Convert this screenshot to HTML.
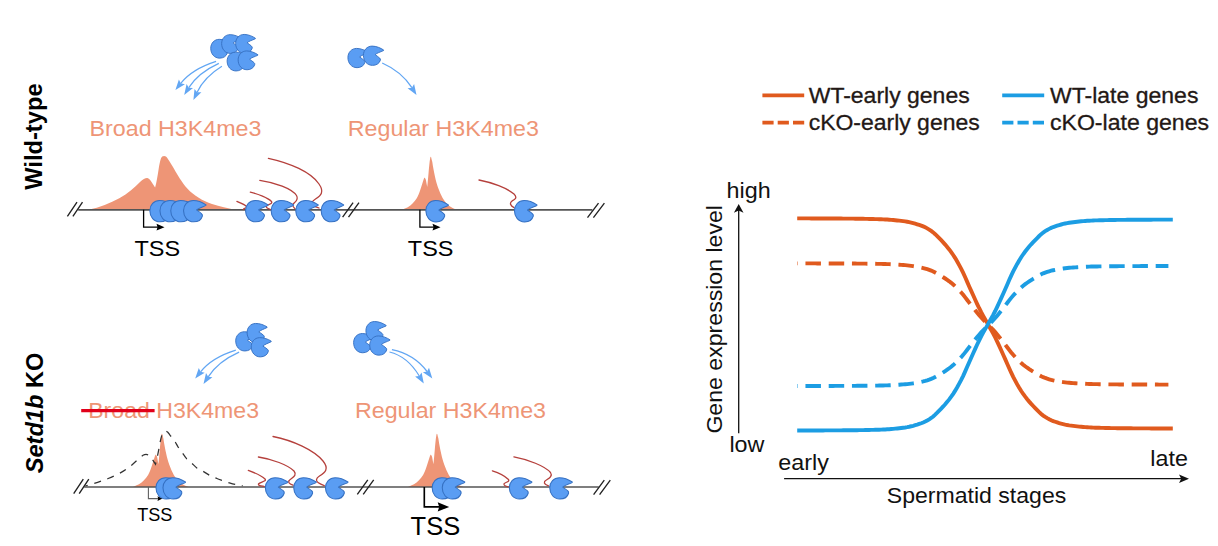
<!DOCTYPE html>
<html><head><meta charset="utf-8"><title>Figure</title>
<style>
html,body{margin:0;padding:0;background:#fff;}
body{width:1218px;height:546px;overflow:hidden;font-family:"Liberation Sans",sans-serif;}
svg{display:block;}
svg text{font-family:"Liberation Sans",sans-serif;}
</style></head><body>
<svg width="1218" height="546" viewBox="0 0 1218 546">
<defs>
<path id="pac" d="M12.5,-6.6 C9,-9 4,-11.2 -1,-11.2 C-7,-11.2 -11.2,-6.5 -11.2,-0.5 C-11.2,6 -7,11.3 -0.5,11.3 C4,11.3 7.5,9 8.6,5.2 C8.9,4.2 8.6,3.6 7.8,2.8 C6,1 4,0 2.5,-1.2 C4.5,-3.2 8.5,-4.2 12.3,-6 Z" fill="#5A9DF3" stroke="#3570C2" stroke-width="1.1" stroke-linejoin="round"/>
</defs>
<rect width="1218" height="546" fill="#fff"/>

<text transform="translate(42.2,189.8) rotate(-90)" font-size="23.7" font-weight="bold" fill="#000">Wild-type</text>
<text transform="translate(42.5,473.3) rotate(-90)" font-size="23.6" font-weight="bold" fill="#000"><tspan font-style="italic">Setd1b</tspan> KO</text>
<path d="M88.3,209.8 C100,207.5 110,203 119.3,198.2 C128,193.5 135,187 140,182 C143,179 145.5,177.8 147.4,178 C149.5,178.3 151,181 152.5,183.5 L155.1,187.6 C156.5,183 157.5,176 158.5,170 C159.5,164 160.5,158 162.2,156.6 C163.2,155.8 165,155.8 165.9,156.6 C168,158.5 171,164 174,168.7 C177,174 182,182.5 187.3,188.6 C194,196 203,201 212,204 C220,206.5 228,208 234.6,209.8 Z" fill="#EE9576"/>
<path d="M401.8,209.8 C406,208.4 410,206.3 412.5,203.5 C414.3,201.7 415.8,199.8 416.9,198 C419.5,193.5 421.5,186 423.6,179.4 C424,178 424.3,177.6 424.6,177.7 C425.2,178 425.6,179 425.9,180 L427.2,187.1 C427.8,182 428.2,177 428.5,173.6 C429,168 429.5,162 430.2,158 C430.5,156.3 431,156.3 431.3,158 C431.7,160 432,160.5 432.3,162.1 C433,167 434,172 434.9,176.2 C435.8,180.5 437,184.5 438.1,187.7 C439.5,191.5 441,195 442.6,198 C444.5,201.3 446.8,203.9 449,205.7 C451.5,207.6 454.5,209 457.8,209.8 Z" fill="#EE9576"/>
<path d="M78.2,209.85 H592.4" stroke="#555" stroke-width="1.65" fill="none"/>
<path d="M67.4,216.45 l9.6,-14.4 M72.9,216.45 l9.6,-14.4" stroke="#222" stroke-width="1.35" fill="none"/>
<path d="M342.6,217.1 l10.5,-14.4 M348.5,217.1 l10.5,-14.4" stroke="#222" stroke-width="1.35" fill="none"/>
<path d="M587.5,217.54999999999998 l11,-14.4 M593.4,217.54999999999998 l11,-14.4" stroke="#222" stroke-width="1.35" fill="none"/>
<path d="M143.6,209.85 V227.2 H158.04" stroke="#000" stroke-width="1.3" fill="none"/><path d="M164.5,227.2 l-8,-3.4 l1.04,3.4 l-1.04,3.4 Z" fill="#000"/>
<path d="M419.9,209.85 V227.2 H434.04" stroke="#000" stroke-width="1.3" fill="none"/><path d="M440.5,227.2 l-8,-3.4 l1.04,3.4 l-1.04,3.4 Z" fill="#000"/>
<text transform="translate(134.5,255.5) scale(1.03,1)" font-size="22.8" fill="#000">TSS</text>
<text transform="translate(407.8,255.5) scale(1.03,1)" font-size="22.8" fill="#000">TSS</text>
<g fill="none" stroke="#B5403C" stroke-width="1.3" stroke-linecap="round">
<path d="M236.9,201.4 C241,203 245,204.5 246.5,206.5 C247.5,208.5 243.5,207.5 243.3,209.5"/>
<path d="M250.3,192.2 C258,194 268,198 271.5,201.5 C273,204 268,204 266.5,206 C265.5,208 269,208.5 270.5,209.5"/>
<path d="M259.8,180.3 C275,182.5 292,188.5 296.5,195.5 C299.5,200.5 294,202.5 292.8,204.5 C292,206.5 294,207.5 295,208.5"/>
<path d="M268.4,158.3 C290,163 311,172 319,184 C324.5,192 321,195.5 315.5,199 C312.5,201 311.5,202.5 311.5,203.5 C312,206 316,207 319,208"/>
<path d="M479,180 C492,182.5 507,188 514,194 C518,198 514.5,199.5 512,201 C509.5,203 510,205.5 514,207.6"/>
</g>
<use href="#pac" transform="translate(160.5,211.1) rotate(0) scale(0.950)"/>
<use href="#pac" transform="translate(170.6,211.1) rotate(0) scale(0.950)"/>
<use href="#pac" transform="translate(181.4,211.1) rotate(0) scale(0.950)"/>
<use href="#pac" transform="translate(194.2,211.1) rotate(0) scale(0.950)"/>
<use href="#pac" transform="translate(256.2,211.1) rotate(0) scale(0.950)"/>
<use href="#pac" transform="translate(281.8,211.1) rotate(0) scale(0.950)"/>
<use href="#pac" transform="translate(306.4,211.1) rotate(0) scale(0.950)"/>
<use href="#pac" transform="translate(331.8,211.1) rotate(0) scale(0.950)"/>
<use href="#pac" transform="translate(436.5,211.2) rotate(0) scale(0.950)"/>
<use href="#pac" transform="translate(525.1,211.2) rotate(0) scale(0.950)"/>
<text x="89.6" y="136.3" font-size="22.8" fill="#EE9576" textLength="171.8" lengthAdjust="spacingAndGlyphs">Broad H3K4me3</text>
<text x="347.8" y="136.4" font-size="22.8" fill="#EE9576" textLength="191" lengthAdjust="spacingAndGlyphs">Regular H3K4me3</text>
<use href="#pac" transform="translate(220.1,48.7) rotate(0) scale(0.836)"/>
<use href="#pac" transform="translate(231,44) rotate(0) scale(0.836)"/>
<use href="#pac" transform="translate(245,43.8) rotate(0) scale(0.836)"/>
<use href="#pac" transform="translate(236.5,61.5) rotate(0) scale(0.836)"/>
<use href="#pac" transform="translate(247.5,60.3) rotate(0) scale(0.836)"/>
<path d="M216.1,61.3 Q192,69 180.7,83.3" fill="none" stroke="#62A6F3" stroke-width="1.25"/><path d="M175.4,90.1 L178.9,79.5 L180.7,83.3 L184.9,84.2 Z" fill="#62A6F3"/>
<path d="M218.8,63.4 Q198,73 188.8,87.7" fill="none" stroke="#62A6F3" stroke-width="1.25"/><path d="M184.2,95 L186.6,84.1 L188.8,87.7 L193.0,88.1 Z" fill="#62A6F3"/>
<path d="M221.9,66.3 Q204.5,77 197.1,92.2" fill="none" stroke="#62A6F3" stroke-width="1.25"/><path d="M193.4,100 L194.5,88.9 L197.1,92.2 L201.4,92.2 Z" fill="#62A6F3"/>
<use href="#pac" transform="translate(357.5,58) rotate(0) scale(0.855)"/>
<use href="#pac" transform="translate(373,55.7) rotate(0) scale(0.855)"/>
<path d="M382.2,63 Q401.5,71.5 411.9,87.7" fill="none" stroke="#62A6F3" stroke-width="1.25"/><path d="M416.5,95 L407.6,88.2 L411.9,87.7 L414.1,84.1 Z" fill="#62A6F3"/>
<path d="M401.8,209.8 C406,208.4 410,206.3 412.5,203.5 C414.3,201.7 415.8,199.8 416.9,198 C419.5,193.5 421.5,186 423.6,179.4 C424,178 424.3,177.6 424.6,177.7 C425.2,178 425.6,179 425.9,180 L427.2,187.1 C427.8,182 428.2,177 428.5,173.6 C429,168 429.5,162 430.2,158 C430.5,156.3 431,156.3 431.3,158 C431.7,160 432,160.5 432.3,162.1 C433,167 434,172 434.9,176.2 C435.8,180.5 437,184.5 438.1,187.7 C439.5,191.5 441,195 442.6,198 C444.5,201.3 446.8,203.9 449,205.7 C451.5,207.6 454.5,209 457.8,209.8 Z" fill="#EE9576" transform="translate(-268.8,277.1)"/>
<path d="M401.8,209.8 C406,208.4 410,206.3 412.5,203.5 C414.3,201.7 415.8,199.8 416.9,198 C419.5,193.5 421.5,186 423.6,179.4 C424,178 424.3,177.6 424.6,177.7 C425.2,178 425.6,179 425.9,180 L427.2,187.1 C427.8,182 428.2,177 428.5,173.6 C429,168 429.5,162 430.2,158 C430.5,156.3 431,156.3 431.3,158 C431.7,160 432,160.5 432.3,162.1 C433,167 434,172 434.9,176.2 C435.8,180.5 437,184.5 438.1,187.7 C439.5,191.5 441,195 442.6,198 C444.5,201.3 446.8,203.9 449,205.7 C451.5,207.6 454.5,209 457.8,209.8 Z" fill="#EE9576" transform="translate(6.2,277.1)"/>
<path d="M85.3,486 C93,484 101,481.3 108.2,478.5 C113,476.6 117.5,474.5 120.8,472.6 C125,470.2 128.8,467.5 131.9,464.9 C136,461.4 139.8,457.3 143,455.3 C144.8,454.3 146.5,454.2 148,454.8 C150,455.8 151.5,458 153,460.3 L155.5,464.2 C157.2,458 158.5,451 159.6,445 C160.6,439.5 161.8,434 163.3,432.3 C164.5,431 166.5,431 167.8,432.3 C168.5,433 169,433.8 169.6,434.6 C171,436.5 172.5,438 174,439.8 C175.5,442 176.5,444.3 177.7,446.4 C179,448.5 180.6,450.3 182.1,452.3 C183.5,454.3 185,456.7 186.6,458.7 C188.2,460.4 190,461.7 191.7,463.1 C193.5,464.7 195.1,466.5 196.9,467.9 C199,469.4 201.3,470.4 203.6,471.6 C205.8,472.9 208,474.5 210.2,475.7 C212.4,476.8 214.7,477.6 216.9,478.5 C219.1,479.4 221.3,480.1 223.5,480.9 C225.7,481.7 228,482.5 230.2,483.1 C232.6,483.8 235.2,484.4 237.6,484.9 L242.7,485.9" fill="none" stroke="#333" stroke-width="1.25" stroke-dasharray="7 6.8" stroke-dashoffset="4.5"/>
<path d="M84.2,486.95 H598.8" stroke="#555" stroke-width="1.65" fill="none"/>
<path d="M73.7,493.59999999999997 l9.6,-14.4 M79.2,493.59999999999997 l9.6,-14.4" stroke="#222" stroke-width="1.35" fill="none"/>
<path d="M357.3,494.3 l10.5,-14.4 M363.2,494.3 l10.5,-14.4" stroke="#222" stroke-width="1.35" fill="none"/>
<path d="M593.6,494.55 l10.7,-14.4 M599.6,494.55 l10.7,-14.4" stroke="#222" stroke-width="1.35" fill="none"/>
<path d="M148.4,486.95 V498.6 H158.65" stroke="#606060" stroke-width="1.1" fill="none"/><path d="M162.5,498.6 l-5,-2.4 l0.65,2.4 l-0.65,2.4 Z" fill="#000"/>
<path d="M424.3,486.95 V506.9 H439.7" stroke="#000" stroke-width="1.65" fill="none"/><path d="M449.2,506.9 l-11.5,-4.7 l1.5,4.7 l-1.5,4.7 Z" fill="#000"/>
<text transform="translate(137.2,520.6) scale(1.03,1)" font-size="17.6" fill="#000">TSS</text>
<text transform="translate(410.6,534.8) scale(1.02,1)" font-size="25" fill="#000">TSS</text>
<g fill="none" stroke="#B5403C" stroke-width="1.3" stroke-linecap="round">
<path d="M248.3,470.4 C254,472.5 262,476 265,479 C267,481.5 260,482 258.5,484 C258,486 262,486 264,486.3"/>
<path d="M258.4,457 C272,459 288,465 294,471 C298,476 291,478 288.8,481 C288,483.5 291,484.5 293.2,485.3"/>
<path d="M273,436.5 C293,440.5 314,450 323,461 C329.5,469 325,472.5 319.5,476 C315.5,478.5 316,481 318,482.5 C320,484 322.5,485 324.3,485.6"/>
<path d="M492.4,470.8 C498,472.5 505,476 508.5,479.5 C510,482 505,482 504,483.8 C503.5,485.5 506,486.3 508.1,486.9"/>
<path d="M513.9,456.9 C528,459.5 545,466 550.5,472.5 C553.5,477 547,479 544.6,481.5 C543.5,484 546.5,485.2 548.5,485.8"/>
</g>
<use href="#pac" transform="translate(166.6,488.3) rotate(0) scale(0.950)"/>
<use href="#pac" transform="translate(173.6,488.3) rotate(0) scale(0.950)"/>
<use href="#pac" transform="translate(276,488.3) rotate(0) scale(0.950)"/>
<use href="#pac" transform="translate(304.4,488.3) rotate(0) scale(0.950)"/>
<use href="#pac" transform="translate(336.1,488.3) rotate(0) scale(0.950)"/>
<use href="#pac" transform="translate(442.8,488.3) rotate(0) scale(0.950)"/>
<use href="#pac" transform="translate(452.9,488.3) rotate(0) scale(0.950)"/>
<use href="#pac" transform="translate(520,488.3) rotate(0) scale(0.950)"/>
<use href="#pac" transform="translate(560.4,488.3) rotate(0) scale(0.950)"/>
<text x="88.2" y="417.9" font-size="22.8" fill="#EE9576" textLength="170.8" lengthAdjust="spacingAndGlyphs">Broad H3K4me3</text>
<path d="M81.2,410.6 H154.6" stroke="#E1001A" stroke-width="3.1"/>
<text x="355" y="418.3" font-size="22.8" fill="#EE9576" textLength="191" lengthAdjust="spacingAndGlyphs">Regular H3K4me3</text>
<use href="#pac" transform="translate(245.3,341.3) rotate(0) scale(0.855)"/>
<use href="#pac" transform="translate(256.7,333) rotate(-2) scale(0.855)"/>
<use href="#pac" transform="translate(260.8,347.2) rotate(-2) scale(0.855)"/>
<path d="M235.8,350.1 Q212,357.5 200.6,371.8" fill="none" stroke="#62A6F3" stroke-width="1.25"/><path d="M195.2,378.5 L198.8,367.9 L200.6,371.8 L204.7,372.7 Z" fill="#62A6F3"/>
<path d="M239.1,352.1 Q218,361.5 208.2,376.8" fill="none" stroke="#62A6F3" stroke-width="1.25"/><path d="M203.5,384 L206.0,373.1 L208.2,376.8 L212.4,377.2 Z" fill="#62A6F3"/>
<use href="#pac" transform="translate(363.2,343.1) rotate(0) scale(0.855)"/>
<use href="#pac" transform="translate(375.5,331.1) rotate(0) scale(0.855)"/>
<use href="#pac" transform="translate(379.3,345.5) rotate(0) scale(0.855)"/>
<path d="M389.5,352 Q407.4,356.3 419.3,376.0" fill="none" stroke="#62A6F3" stroke-width="1.25"/><path d="M423.8,383.4 L415.1,376.4 L419.3,376.0 L421.6,372.4 Z" fill="#62A6F3"/>
<path d="M391.9,349.6 Q413.9,354 427.1,371.5" fill="none" stroke="#62A6F3" stroke-width="1.25"/><path d="M432.3,378.4 L422.9,372.3 L427.1,371.5 L429.0,367.7 Z" fill="#62A6F3"/>
<path d="M762.4,95.4 H804.2" stroke="#E05A1E" stroke-width="3.7"/>
<path d="M762.4,122.6 H804.2" stroke="#E05A1E" stroke-width="3.7" stroke-dasharray="11.2 4.1"/>
<path d="M1002.2,95.4 H1044.2" stroke="#1C9DE3" stroke-width="3.7"/>
<path d="M1002.2,122.6 H1044.2" stroke="#1C9DE3" stroke-width="3.7" stroke-dasharray="11.2 4.1"/>
<text x="808.7" y="103.1" font-size="22" fill="#231815" stroke="#231815" stroke-width="0.3" textLength="161" lengthAdjust="spacingAndGlyphs">WT-early genes</text>
<text x="808.7" y="130.3" font-size="22" fill="#231815" stroke="#231815" stroke-width="0.3" textLength="171" lengthAdjust="spacingAndGlyphs">cKO-early genes</text>
<text x="1050" y="103.1" font-size="22" fill="#231815" stroke="#231815" stroke-width="0.3" textLength="148.4" lengthAdjust="spacingAndGlyphs">WT-late genes</text>
<text x="1050" y="130.3" font-size="22" fill="#231815" stroke="#231815" stroke-width="0.3" textLength="159" lengthAdjust="spacingAndGlyphs">cKO-late genes</text>
<path d="M738.7,433.2 V210" stroke="#111" stroke-width="1.3" fill="none"/>
<path d="M738.7,204 l-4.8,8.8 l4.8,-2.4 l4.8,2.4 Z" fill="#111"/>
<path d="M784.1,478.7 H1183" stroke="#111" stroke-width="1.3" fill="none"/>
<path d="M1189,478.7 l-10,-4.2 l2.2,4.2 l-2.2,4.2 Z" fill="#111"/>
<text transform="translate(726.6,197.5) scale(1.05,1)" font-size="22.2" fill="#111">high</text>
<text transform="translate(729.4,451.7) scale(1.05,1)" font-size="22.2" fill="#111">low</text>
<text transform="translate(778.3,469.6) scale(1.05,1)" font-size="22.2" fill="#111">early</text>
<text transform="translate(1150.3,465.5) scale(1.05,1)" font-size="22.2" fill="#111">late</text>
<text x="886.8" y="503.4" font-size="22.3" fill="#111" textLength="179.5" lengthAdjust="spacingAndGlyphs">Spermatid stages</text>
<text transform="translate(722,433.6) rotate(-90)" font-size="22.4" fill="#111" textLength="228.6" lengthAdjust="spacingAndGlyphs">Gene expression level</text>
<path d="M797.2,263.40 L799.2,263.40 L801.2,263.40 L803.2,263.41 L805.2,263.41 L807.2,263.41 L809.2,263.41 L811.2,263.42 L813.2,263.42 L815.2,263.42 L817.2,263.43 L819.2,263.43 L821.2,263.44 L823.2,263.44 L825.2,263.45 L827.2,263.45 L829.2,263.46 L831.2,263.46 L833.2,263.47 L835.2,263.48 L837.2,263.48 L839.2,263.49 L841.2,263.50 L843.2,263.50 L845.2,263.51 L847.2,263.52 L849.2,263.53 L851.2,263.54 L853.2,263.55 L855.2,263.56 L857.2,263.58 L859.2,263.59 L861.2,263.61 L863.2,263.63 L865.2,263.66 L867.2,263.68 L869.2,263.70 L871.2,263.73 L873.2,263.76 L875.2,263.79 L877.2,263.83 L879.2,263.86 L881.2,263.90 L883.2,263.95 L885.2,264.01 L887.2,264.08 L889.2,264.16 L891.2,264.25 L893.2,264.35 L895.2,264.46 L897.2,264.58 L899.2,264.71 L901.2,264.85 L903.2,265.00 L905.2,265.15 L907.2,265.34 L909.2,265.57 L911.2,265.83 L913.2,266.12 L915.2,266.44 L917.2,266.79 L919.2,267.17 L921.2,267.56 L923.2,268.02 L925.2,268.55 L927.2,269.16 L929.2,269.83 L931.2,270.58 L933.2,271.48 L935.2,272.51 L937.2,273.64 L939.2,274.81 L941.2,275.99 L943.2,277.22 L945.2,278.51 L947.2,279.86 L949.2,281.30 L951.2,282.84 L953.2,284.49 L955.2,286.31 L957.2,288.27 L959.2,290.35 L961.2,292.52 L963.2,294.84 L965.2,297.36 L967.2,300.00 L969.2,302.65 L971.2,305.22 L973.2,307.76 L975.2,310.31 L977.2,312.82 L979.2,315.23 L981.2,317.50 L983.2,319.62 L985.2,321.65 L987.2,323.69 L989.2,325.74 L991.2,327.76 L993.2,329.85 L995.2,332.07 L997.2,334.45 L999.2,336.93 L1001.2,339.47 L1003.2,342.02 L1005.2,344.56 L1007.2,347.20 L1009.2,349.85 L1011.2,352.42 L1013.2,354.81 L1015.2,357.01 L1017.2,359.12 L1019.2,361.12 L1021.2,362.98 L1023.2,364.68 L1025.2,366.25 L1027.2,367.71 L1029.2,369.09 L1031.2,370.40 L1033.2,371.64 L1035.2,372.84 L1037.2,374.02 L1039.2,375.16 L1041.2,376.22 L1043.2,377.16 L1045.2,377.95 L1047.2,378.65 L1049.2,379.28 L1051.2,379.83 L1053.2,380.31 L1055.2,380.72 L1057.2,381.10 L1059.2,381.45 L1061.2,381.79 L1063.2,382.09 L1065.2,382.36 L1067.2,382.59 L1069.2,382.79 L1071.2,382.96 L1073.2,383.11 L1075.2,383.25 L1077.2,383.38 L1079.2,383.50 L1081.2,383.62 L1083.2,383.72 L1085.2,383.82 L1087.2,383.90 L1089.2,383.97 L1091.2,384.04 L1093.2,384.09 L1095.2,384.13 L1097.2,384.16 L1099.2,384.20 L1101.2,384.23 L1103.2,384.26 L1105.2,384.29 L1107.2,384.31 L1109.2,384.34 L1111.2,384.36 L1113.2,384.38 L1115.2,384.40 L1117.2,384.42 L1119.2,384.43 L1121.2,384.45 L1123.2,384.46 L1125.2,384.47 L1127.2,384.48 L1129.2,384.49 L1131.2,384.49 L1133.2,384.50 L1135.2,384.51 L1137.2,384.51 L1139.2,384.52 L1141.2,384.53 L1143.2,384.53 L1145.2,384.54 L1147.2,384.55 L1149.2,384.55 L1151.2,384.56 L1153.2,384.56 L1155.2,384.57 L1157.2,384.57 L1159.2,384.58 L1161.2,384.58 L1163.2,384.58 L1165.2,384.59 L1167.2,384.59 L1168.4,384.59" fill="none" stroke="#E05A1E" stroke-width="3.9" stroke-dasharray="15.5 7.75" stroke-dashoffset="15"/>
<path d="M797.2,386.00 L799.2,386.00 L801.2,386.00 L803.2,385.99 L805.2,385.99 L807.2,385.99 L809.2,385.99 L811.2,385.98 L813.2,385.98 L815.2,385.98 L817.2,385.97 L819.2,385.97 L821.2,385.96 L823.2,385.96 L825.2,385.95 L827.2,385.95 L829.2,385.94 L831.2,385.94 L833.2,385.93 L835.2,385.92 L837.2,385.92 L839.2,385.91 L841.2,385.90 L843.2,385.90 L845.2,385.89 L847.2,385.88 L849.2,385.87 L851.2,385.86 L853.2,385.85 L855.2,385.84 L857.2,385.82 L859.2,385.81 L861.2,385.79 L863.2,385.77 L865.2,385.75 L867.2,385.72 L869.2,385.70 L871.2,385.67 L873.2,385.64 L875.2,385.61 L877.2,385.58 L879.2,385.54 L881.2,385.51 L883.2,385.46 L885.2,385.40 L887.2,385.33 L889.2,385.25 L891.2,385.16 L893.2,385.06 L895.2,384.95 L897.2,384.83 L899.2,384.70 L901.2,384.56 L903.2,384.42 L905.2,384.26 L907.2,384.08 L909.2,383.85 L911.2,383.60 L913.2,383.31 L915.2,382.99 L917.2,382.64 L919.2,382.27 L921.2,381.88 L923.2,381.43 L925.2,380.90 L927.2,380.30 L929.2,379.63 L931.2,378.89 L933.2,378.00 L935.2,376.98 L937.2,375.87 L939.2,374.71 L941.2,373.53 L943.2,372.32 L945.2,371.04 L947.2,369.70 L949.2,368.27 L951.2,366.76 L953.2,365.12 L955.2,363.32 L957.2,361.38 L959.2,359.32 L961.2,357.17 L963.2,354.87 L965.2,352.37 L967.2,349.76 L969.2,347.14 L971.2,344.59 L973.2,342.08 L975.2,339.55 L977.2,337.07 L979.2,334.68 L981.2,332.43 L983.2,330.34 L985.2,328.32 L987.2,326.31 L989.2,324.28 L991.2,322.27 L993.2,320.21 L995.2,318.01 L997.2,315.66 L999.2,313.20 L1001.2,310.68 L1003.2,308.16 L1005.2,305.64 L1007.2,303.03 L1009.2,300.40 L1011.2,297.86 L1013.2,295.49 L1015.2,293.32 L1017.2,291.23 L1019.2,289.25 L1021.2,287.40 L1023.2,285.72 L1025.2,284.17 L1027.2,282.72 L1029.2,281.35 L1031.2,280.06 L1033.2,278.83 L1035.2,277.64 L1037.2,276.48 L1039.2,275.35 L1041.2,274.30 L1043.2,273.36 L1045.2,272.58 L1047.2,271.89 L1049.2,271.27 L1051.2,270.72 L1053.2,270.25 L1055.2,269.84 L1057.2,269.47 L1059.2,269.11 L1061.2,268.79 L1063.2,268.49 L1065.2,268.22 L1067.2,267.99 L1069.2,267.79 L1071.2,267.63 L1073.2,267.48 L1075.2,267.34 L1077.2,267.21 L1079.2,267.09 L1081.2,266.97 L1083.2,266.87 L1085.2,266.78 L1087.2,266.69 L1089.2,266.62 L1091.2,266.56 L1093.2,266.51 L1095.2,266.47 L1097.2,266.43 L1099.2,266.40 L1101.2,266.37 L1103.2,266.34 L1105.2,266.31 L1107.2,266.28 L1109.2,266.26 L1111.2,266.24 L1113.2,266.22 L1115.2,266.20 L1117.2,266.18 L1119.2,266.17 L1121.2,266.15 L1123.2,266.14 L1125.2,266.13 L1127.2,266.12 L1129.2,266.11 L1131.2,266.11 L1133.2,266.10 L1135.2,266.09 L1137.2,266.08 L1139.2,266.08 L1141.2,266.07 L1143.2,266.07 L1145.2,266.06 L1147.2,266.05 L1149.2,266.05 L1151.2,266.04 L1153.2,266.04 L1155.2,266.03 L1157.2,266.03 L1159.2,266.02 L1161.2,266.02 L1163.2,266.02 L1165.2,266.01 L1167.2,266.01 L1168.4,266.01" fill="none" stroke="#1C9DE3" stroke-width="3.9" stroke-dasharray="15.5 7.75" stroke-dashoffset="15"/>
<path d="M797.2,218.40 L799.2,218.40 L801.2,218.41 L803.2,218.41 L805.2,218.41 L807.2,218.42 L809.2,218.42 L811.2,218.43 L813.2,218.43 L815.2,218.44 L817.2,218.45 L819.2,218.46 L821.2,218.46 L823.2,218.47 L825.2,218.48 L827.2,218.49 L829.2,218.50 L831.2,218.51 L833.2,218.52 L835.2,218.53 L837.2,218.54 L839.2,218.56 L841.2,218.57 L843.2,218.58 L845.2,218.59 L847.2,218.61 L849.2,218.62 L851.2,218.64 L853.2,218.66 L855.2,218.68 L857.2,218.71 L859.2,218.74 L861.2,218.77 L863.2,218.80 L865.2,218.84 L867.2,218.88 L869.2,218.93 L871.2,218.98 L873.2,219.03 L875.2,219.08 L877.2,219.14 L879.2,219.20 L881.2,219.26 L883.2,219.35 L885.2,219.45 L887.2,219.57 L889.2,219.71 L891.2,219.87 L893.2,220.05 L895.2,220.24 L897.2,220.45 L899.2,220.68 L901.2,220.92 L903.2,221.17 L905.2,221.44 L907.2,221.77 L909.2,222.16 L911.2,222.61 L913.2,223.12 L915.2,223.68 L917.2,224.28 L919.2,224.93 L921.2,225.61 L923.2,226.40 L925.2,227.32 L927.2,228.38 L929.2,229.55 L931.2,230.85 L933.2,232.41 L935.2,234.20 L937.2,236.14 L939.2,238.17 L941.2,240.23 L943.2,242.36 L945.2,244.59 L947.2,246.94 L949.2,249.44 L951.2,252.09 L953.2,254.96 L955.2,258.11 L957.2,261.51 L959.2,265.11 L961.2,268.88 L963.2,272.90 L965.2,277.27 L967.2,281.85 L969.2,286.44 L971.2,290.90 L973.2,295.30 L975.2,299.72 L977.2,304.06 L979.2,308.25 L981.2,312.19 L983.2,315.86 L985.2,319.38 L987.2,322.91 L989.2,326.47 L991.2,329.98 L993.2,333.59 L995.2,337.44 L997.2,341.56 L999.2,345.87 L1001.2,350.27 L1003.2,354.69 L1005.2,359.10 L1007.2,363.67 L1009.2,368.27 L1011.2,372.72 L1013.2,376.86 L1015.2,380.68 L1017.2,384.33 L1019.2,387.80 L1021.2,391.02 L1023.2,393.97 L1025.2,396.69 L1027.2,399.23 L1029.2,401.62 L1031.2,403.88 L1033.2,406.04 L1035.2,408.11 L1037.2,410.15 L1039.2,412.13 L1041.2,413.98 L1043.2,415.61 L1045.2,416.97 L1047.2,418.18 L1049.2,419.27 L1051.2,420.24 L1053.2,421.07 L1055.2,421.77 L1057.2,422.43 L1059.2,423.05 L1061.2,423.62 L1063.2,424.14 L1065.2,424.61 L1067.2,425.02 L1069.2,425.37 L1071.2,425.65 L1073.2,425.91 L1075.2,426.15 L1077.2,426.38 L1079.2,426.60 L1081.2,426.79 L1083.2,426.98 L1085.2,427.14 L1087.2,427.29 L1089.2,427.42 L1091.2,427.52 L1093.2,427.61 L1095.2,427.68 L1097.2,427.74 L1099.2,427.80 L1101.2,427.86 L1103.2,427.91 L1105.2,427.96 L1107.2,428.00 L1109.2,428.05 L1111.2,428.08 L1113.2,428.12 L1115.2,428.15 L1117.2,428.18 L1119.2,428.21 L1121.2,428.23 L1123.2,428.25 L1125.2,428.27 L1127.2,428.29 L1129.2,428.30 L1131.2,428.31 L1133.2,428.33 L1135.2,428.34 L1137.2,428.35 L1139.2,428.36 L1141.2,428.37 L1143.2,428.39 L1145.2,428.40 L1147.2,428.41 L1149.2,428.42 L1151.2,428.43 L1153.2,428.43 L1155.2,428.44 L1157.2,428.45 L1159.2,428.46 L1161.2,428.46 L1163.2,428.47 L1165.2,428.48 L1167.2,428.48 L1169.2,428.49 L1171.2,428.49 L1172.8,428.49" fill="none" stroke="#E05A1E" stroke-width="3.9"/>
<path d="M797.2,430.50 L799.2,430.50 L801.2,430.49 L803.2,430.49 L805.2,430.49 L807.2,430.48 L809.2,430.48 L811.2,430.47 L813.2,430.47 L815.2,430.46 L817.2,430.45 L819.2,430.44 L821.2,430.44 L823.2,430.43 L825.2,430.42 L827.2,430.41 L829.2,430.40 L831.2,430.39 L833.2,430.38 L835.2,430.37 L837.2,430.35 L839.2,430.34 L841.2,430.33 L843.2,430.32 L845.2,430.30 L847.2,430.29 L849.2,430.28 L851.2,430.26 L853.2,430.24 L855.2,430.22 L857.2,430.19 L859.2,430.16 L861.2,430.13 L863.2,430.09 L865.2,430.06 L867.2,430.01 L869.2,429.97 L871.2,429.92 L873.2,429.87 L875.2,429.82 L877.2,429.76 L879.2,429.70 L881.2,429.63 L883.2,429.55 L885.2,429.45 L887.2,429.32 L889.2,429.18 L891.2,429.02 L893.2,428.84 L895.2,428.65 L897.2,428.44 L899.2,428.21 L901.2,427.97 L903.2,427.72 L905.2,427.45 L907.2,427.12 L909.2,426.73 L911.2,426.27 L913.2,425.77 L915.2,425.20 L917.2,424.60 L919.2,423.95 L921.2,423.26 L923.2,422.47 L925.2,421.54 L927.2,420.48 L929.2,419.31 L931.2,418.00 L933.2,416.44 L935.2,414.64 L937.2,412.69 L939.2,410.65 L941.2,408.59 L943.2,406.45 L945.2,404.21 L947.2,401.85 L949.2,399.35 L951.2,396.68 L953.2,393.80 L955.2,390.64 L957.2,387.23 L959.2,383.61 L961.2,379.83 L963.2,375.80 L965.2,371.40 L967.2,366.81 L969.2,362.20 L971.2,357.72 L973.2,353.30 L975.2,348.87 L977.2,344.51 L979.2,340.31 L981.2,336.35 L983.2,332.67 L985.2,329.13 L987.2,325.59 L989.2,322.02 L991.2,318.50 L993.2,314.87 L995.2,311.01 L997.2,306.87 L999.2,302.55 L1001.2,298.13 L1003.2,293.70 L1005.2,289.27 L1007.2,284.68 L1009.2,280.06 L1011.2,275.59 L1013.2,271.43 L1015.2,267.61 L1017.2,263.94 L1019.2,260.46 L1021.2,257.22 L1023.2,254.26 L1025.2,251.54 L1027.2,248.98 L1029.2,246.58 L1031.2,244.31 L1033.2,242.14 L1035.2,240.06 L1037.2,238.02 L1039.2,236.03 L1041.2,234.18 L1043.2,232.54 L1045.2,231.17 L1047.2,229.96 L1049.2,228.86 L1051.2,227.89 L1053.2,227.06 L1055.2,226.36 L1057.2,225.69 L1059.2,225.07 L1061.2,224.50 L1063.2,223.97 L1065.2,223.50 L1067.2,223.09 L1069.2,222.74 L1071.2,222.46 L1073.2,222.20 L1075.2,221.96 L1077.2,221.73 L1079.2,221.51 L1081.2,221.31 L1083.2,221.13 L1085.2,220.96 L1087.2,220.82 L1089.2,220.69 L1091.2,220.58 L1093.2,220.49 L1095.2,220.42 L1097.2,220.36 L1099.2,220.30 L1101.2,220.24 L1103.2,220.19 L1105.2,220.14 L1107.2,220.10 L1109.2,220.06 L1111.2,220.02 L1113.2,219.98 L1115.2,219.95 L1117.2,219.92 L1119.2,219.89 L1121.2,219.87 L1123.2,219.85 L1125.2,219.83 L1127.2,219.81 L1129.2,219.80 L1131.2,219.79 L1133.2,219.77 L1135.2,219.76 L1137.2,219.75 L1139.2,219.74 L1141.2,219.73 L1143.2,219.71 L1145.2,219.70 L1147.2,219.69 L1149.2,219.68 L1151.2,219.68 L1153.2,219.67 L1155.2,219.66 L1157.2,219.65 L1159.2,219.64 L1161.2,219.64 L1163.2,219.63 L1165.2,219.62 L1167.2,219.62 L1169.2,219.61 L1171.2,219.61 L1172.8,219.61" fill="none" stroke="#1C9DE3" stroke-width="3.9"/>
</svg></body></html>
